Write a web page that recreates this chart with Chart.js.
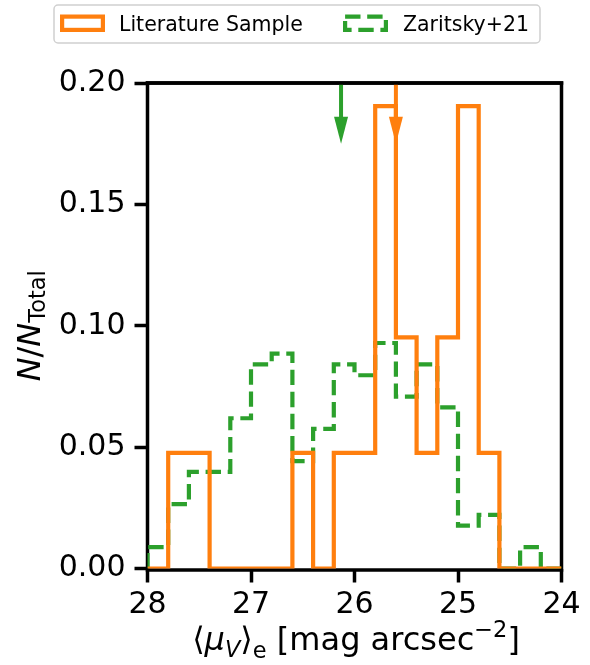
<!DOCTYPE html>
<html>
<head>
<meta charset="utf-8">
<script src="https://cdn.jsdelivr.net/npm/chart.js@4/dist/chart.umd.min.js"></script>
<style>
  html, body { margin:0; padding:0; background:#fff; }
  #c { display:block; }
</style>
</head>
<body>
<canvas id="c" width="590" height="665"></canvas>
<script>
// bin edges (mag arcsec^-2), bright end on the right
const binEdges = [28.0, 27.8, 27.6, 27.4, 27.2, 27.0, 26.8, 26.6, 26.4, 26.2, 26.0,
                  25.8, 25.6, 25.4, 25.2, 25.0, 24.8, 24.6, 24.4, 24.2, 24.0];

// N/N_total per bin
const litValues = [0, 0.0476, 0.0476, 0, 0, 0, 0, 0.0476, 0, 0.0476, 0.0476,
                   0.1905, 0.0952, 0.0476, 0.0952, 0.1905, 0.0476, 0, 0, 0];
const zarValues = [0.0088, 0.0265, 0.0398, 0.0398, 0.0619, 0.0841, 0.0885, 0.0442, 0.0575, 0.0841,
                   0.0796, 0.0929, 0.0708, 0.0841, 0.0664, 0.0177, 0.0221, 0, 0.0088, 0];

const seriesNames = ['Literature Sample', 'Zaritsky+21'];
const seriesColors = ['#ff7f0e', '#2ca02c'];

// median markers (arrows from the top)
const arrowX = [25.60, 26.13];
const arrowTip = 0.175;

const xTicks = [28, 27, 26, 25, 24];
const yTicks = [0, 0.05, 0.10, 0.15, 0.20];

const FONT = 'DejaVu Sans';
const LW = 4.2;
const DASH = [15.4, 6.7];

function stepPoints(edges, vals){
  const pts = [{x: edges[0], y: 0}];
  vals.forEach((v, i) => {
    pts.push({x: edges[i], y: v});
    pts.push({x: edges[i+1], y: v});
  });
  pts.push({x: edges[edges.length-1], y: 0});
  return pts;
}

const extras = {
  id: 'extras',
  beforeDatasetsDraw(chart){
    // frame under the step lines
    const ctx = chart.ctx, a = chart.chartArea;
    ctx.save();
    ctx.strokeStyle = '#000';
    ctx.lineWidth = 3.5;
    ctx.strokeRect(a.left, a.top, a.right - a.left, a.bottom - a.top + 1.5);
    ctx.restore();
  },
  afterDatasetsDraw(chart){
    const ctx = chart.ctx, a = chart.chartArea;
    const xs = chart.scales.x, ys = chart.scales.y;

    // arrows
    [1, 0].forEach(i => {
      const px = xs.getPixelForValue(arrowX[i]);
      const tip = ys.getPixelForValue(arrowTip);
      const headLen = 27, headW = 14;
      ctx.save();
      ctx.strokeStyle = seriesColors[i];
      ctx.fillStyle = seriesColors[i];
      ctx.lineWidth = 4;
      ctx.beginPath();
      ctx.moveTo(px, a.top);
      ctx.lineTo(px, tip - headLen + 2);
      ctx.stroke();
      ctx.beginPath();
      ctx.moveTo(px - headW/2, tip - headLen);
      ctx.lineTo(px + headW/2, tip - headLen);
      ctx.lineTo(px, tip);
      ctx.closePath();
      ctx.fill();
      ctx.restore();
    });

    // top spine over the arrow shafts
    ctx.save();
    ctx.strokeStyle = '#000';
    ctx.lineWidth = 3.5;
    ctx.beginPath();
    ctx.moveTo(a.left - 1.75, a.top);
    ctx.lineTo(a.right + 1.75, a.top);
    ctx.stroke();
    ctx.restore();
  },
  afterDraw(chart){
    const ctx = chart.ctx, a = chart.chartArea;
    ctx.save();
    ctx.fillStyle = '#000';
    ctx.textBaseline = 'alphabetic';

    // x axis title: <mu_V>_e [mag arcsec^-2]
    const big = 32, small = 22.5;
    const parts = [
      {t: '\u27E8', f: `${big}px "${FONT}"`, dy: 0},
      {t: '\u03BC', f: `italic ${big}px "${FONT}"`, dy: 0},
      {t: 'V', f: `italic ${small}px "${FONT}"`, dy: 7},
      {t: '\u27E9', f: `${big}px "${FONT}"`, dy: 0},
      {t: 'e', f: `${small}px "${FONT}"`, dy: 8},
      {t: ' [mag arcsec', f: `${big}px "${FONT}"`, dy: 0},
      {t: '\u22122', f: `${small}px "${FONT}"`, dy: -13},
      {t: ']', f: `${big}px "${FONT}"`, dy: 0}
    ];
    let w = 0;
    parts.forEach(p => { ctx.font = p.f; p.w = ctx.measureText(p.t).width; w += p.w; });
    let x = 356 - w/2;
    const base = 650;
    parts.forEach(p => { ctx.font = p.f; ctx.fillText(p.t, x, base + p.dy); x += p.w; });

    // y axis title: N/N_Total
    ctx.translate(40, (a.top + a.bottom)/2);
    ctx.rotate(-Math.PI/2);
    const yparts = [
      {t: 'N', f: `italic ${big}px "${FONT}"`, dy: 0},
      {t: '/', f: `${big}px "${FONT}"`, dy: 0},
      {t: 'N', f: `italic ${big}px "${FONT}"`, dy: 0},
      {t: 'Total', f: `${small}px "${FONT}"`, dy: 5}
    ];
    w = 0;
    yparts.forEach(p => { ctx.font = p.f; p.w = ctx.measureText(p.t).width; w += p.w; });
    x = -w/2;
    yparts.forEach(p => { ctx.font = p.f; ctx.fillText(p.t, x, p.dy); x += p.w; });
    ctx.restore();

    // legend
    ctx.save();
    const bx = 54, by = 5, bw = 486, bh = 38;
    ctx.strokeStyle = '#d0d0d0';
    ctx.lineWidth = 1.5;
    ctx.beginPath();
    ctx.roundRect(bx, by, bw, bh, 4);
    ctx.fillStyle = 'rgba(255,255,255,0.8)';
    ctx.fill();
    ctx.stroke();
    const items = [
      {px: 60, tx: 119, dash: []},
      {px: 343, tx: 403, dash: DASH}
    ];
    items.forEach((it, i) => {
      ctx.strokeStyle = seriesColors[i];
      ctx.lineWidth = LW;
      ctx.setLineDash(it.dash);
      ctx.strokeRect(it.px + 2.1, 16.6, 40.8, 13.3);
      ctx.setLineDash([]);
      ctx.fillStyle = '#000';
      ctx.font = `20.5px "${FONT}"`;
      ctx.fillText(seriesNames[i], it.tx, 31);
    });
    ctx.restore();
  }
};

new Chart(document.getElementById('c'), {
  type: 'line',
  data: {
    datasets: [
      {
        label: seriesNames[0],
        data: stepPoints(binEdges, litValues),
        borderColor: seriesColors[0],
        borderWidth: LW,
        pointRadius: 0,
        fill: false,
        tension: 0
      },
      {
        label: seriesNames[1],
        data: stepPoints(binEdges, zarValues),
        borderColor: seriesColors[1],
        borderWidth: LW,
        borderDash: DASH,
        pointRadius: 0,
        fill: false,
        tension: 0
      }
    ]
  },
  options: {
    responsive: false,
    animation: false,
    devicePixelRatio: 1,
    layout: { padding: { top: 83, right: 28.5, left: 0, bottom: 0 } },
    plugins: { legend: { display: false }, tooltip: { enabled: false } },
    scales: {
      x: {
        type: 'linear',
        reverse: true,
        min: 24, max: 28,
        afterBuildTicks: s => { s.ticks = xTicks.map(v => ({value: v})); },
        afterFit: s => { s.height = 96.5; },
        ticks: {
          color: '#000',
          font: { family: FONT, size: 30 },
          padding: 5,
          maxRotation: 0,
          callback: v => String(v)
        },
        grid: { drawOnChartArea: false, drawTicks: true, tickLength: 14, tickWidth: 3.5, tickColor: '#000' },
        border: { display: false }
      },
      y: {
        min: 0, max: 0.2,
        afterBuildTicks: s => { s.ticks = yTicks.map(v => ({value: v})); },
        afterFit: s => { s.width = 147.5; },
        ticks: {
          color: '#000',
          font: { family: FONT, size: 30 },
          padding: 9,
          callback: v => v.toFixed(2)
        },
        grid: { drawOnChartArea: false, drawTicks: true, tickLength: 13, tickWidth: 3.5, tickColor: '#000' },
        border: { display: false }
      }
    }
  },
  plugins: [extras]
});
</script>
</body>
</html>
